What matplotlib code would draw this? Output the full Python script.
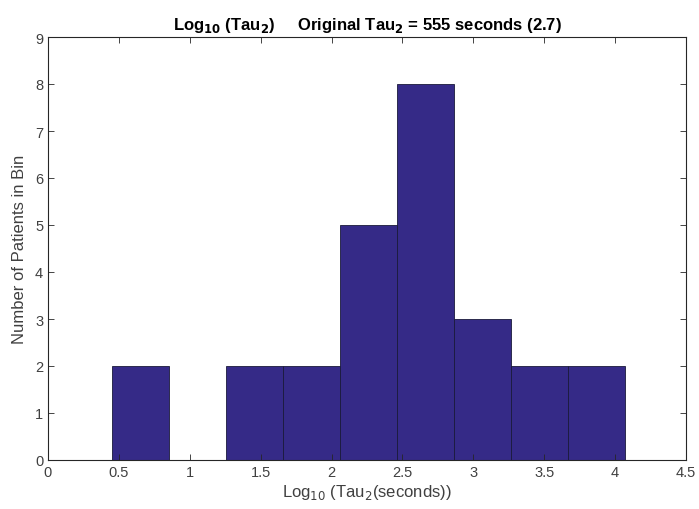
import matplotlib
matplotlib.use("Agg")
import matplotlib.pyplot as plt
import numpy as np

bin_edges = [0.451, 0.853, 1.255, 1.657, 2.059, 2.461, 2.863, 3.265, 3.667, 4.069]
counts = [2, 0, 2, 2, 5, 8, 3, 2, 2]
xticks = [0, 0.5, 1, 1.5, 2, 2.5, 3, 3.5, 4, 4.5]
xticklabels = ["0", "0.5", "1", "1.5", "2", "2.5", "3", "3.5", "4", "4.5"]
yticks = list(range(0, 10))

plt.rcParams['font.family'] = ['Liberation Sans Narrow', 'Liberation Sans', 'DejaVu Sans']

fig = plt.figure(figsize=(6.99, 5.10), dpi=100)
ax = fig.add_axes([48/699, 49/510, (686-48)/699, (461-38)/510])

lefts = bin_edges[:-1]
widths = np.diff(bin_edges)
ax.bar(lefts, counts, width=widths, align='edge', color='#352a87',
       edgecolor='#1a1a3a', linewidth=0.6)

ax.set_xlim(0, 4.5)
ax.set_ylim(0, 9)
ax.set_xticks(xticks)
ax.set_xticklabels(xticklabels)
ax.set_yticks(yticks)
ax.tick_params(direction='in', length=4, width=0.6, labelsize=10.5, colors='#262626',
               top=True, right=True, labelcolor='#404040')
for s in ax.spines.values():
    s.set_linewidth(0.8)
    s.set_color('#262626')

ax.set_xlabel(r'Log$_{10}$ (Tau$_2$(seconds))', fontsize=12, color='#404040', labelpad=2)
ax.set_ylabel('Number of Patients in Bin', fontsize=12, color='#404040', labelpad=6)
ax.set_title(r'Log$_{\mathbf{10}}$ (Tau$_{\mathbf{2}}$)     Original Tau$_{\mathbf{2}}$ = 555 seconds (2.7)',
             fontsize=12, fontweight='bold', pad=6)

fig.savefig('out.png', dpi=100)
